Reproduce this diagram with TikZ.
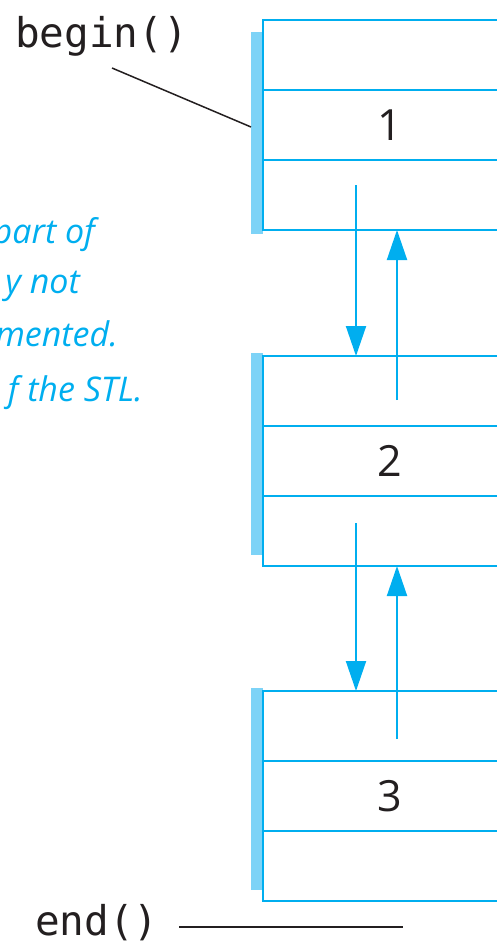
\documentclass[tikz,border=0pt]{standalone}
\usepackage{fontspec}
\usetikzlibrary{arrows.meta}
\newfontfamily\monof{DejaVu Sans Mono}
\newfontfamily\numf{Open Sans}
\newfontfamily\notef{Open Sans}
\definecolor{lc}{HTML}{00AEEF}
\definecolor{sh}{HTML}{7DD3F7}
\definecolor{tx}{HTML}{231F20}
\begin{document}
\begin{tikzpicture}[x=1pt,y=-1pt,
  cell/.style={draw=lc,line width=2.5pt,minimum width=254pt,minimum height=70pt,
    anchor=north west,inner sep=0pt,outer sep=0pt,
    font=\numf\fontsize{43}{43}\selectfont,text=tx},
  shade/.style={fill=sh,draw=none,minimum width=12pt,minimum height=202pt,
    anchor=north west,inner sep=0pt,outer sep=0pt},
  link/.style={draw=lc,line width=2pt,-{Triangle[length=30pt,width=20pt]}},
  code/.style={anchor=base west,inner sep=0pt,text=tx,
    font=\monof\fontsize{41}{41}\selectfont},
  note/.style={anchor=base east,inner sep=0pt,text=lc,
    font=\notef\itshape\fontsize{34}{34}\selectfont},
  pointer/.style={draw=tx,line width=1.5pt}]
\useasboundingbox (0,0) rectangle (497,944);
\clip (0,0) rectangle (497,944);
% shadows
\node[shade] (s1) at (251,32) {};
\node[shade] (s2) at (251,353) {};
\node[shade] (s3) at (251,688) {};
% box 1
\node[cell] (a1) at (263,20) {};
\node[cell] (b1) at (263,90) {1};
\node[cell] (c1) at (263,160) {};
% box 2
\node[cell] (a2) at (263,356) {};
\node[cell] (b2) at (263,426) {2};
\node[cell] (c2) at (263,496) {};
% box 3
\node[cell] (a3) at (263,691) {};
\node[cell] (b3) at (263,761) {3};
\node[cell] (c3) at (263,831) {};
% links
\coordinate (d1) at (356,185);
\coordinate (u1) at (397,400);
\coordinate (d2) at (356,523);
\coordinate (u2) at (397,739);
\draw[link] (d1) -- (d1 |- a2.north);
\draw[link] (u1) -- (u1 |- c1.south);
\draw[link] (d2) -- (d2 |- a3.north);
\draw[link] (u2) -- (u2 |- c2.south);
% labels
\node[code] (begin) at (15,48) {begin()};
\node[code] (end) at (35,935) {end()};
\coordinate (bs) at (112,68);
\coordinate (be) at (251,127);
\draw[pointer] (bs) -- (be);
\coordinate (es) at (179,927);
\coordinate (ee) at (403,927);
\draw[pointer] (es) -- (ee);
% notes
\node[note] (n1) at (95,243) {part of};
\node[note] (n2) at (80,293) {y not};
\node[note] (n3) at (118,346) {mented.};
\node[note] (n4) at (143,401) {f the STL.};
\end{tikzpicture}
\end{document}
